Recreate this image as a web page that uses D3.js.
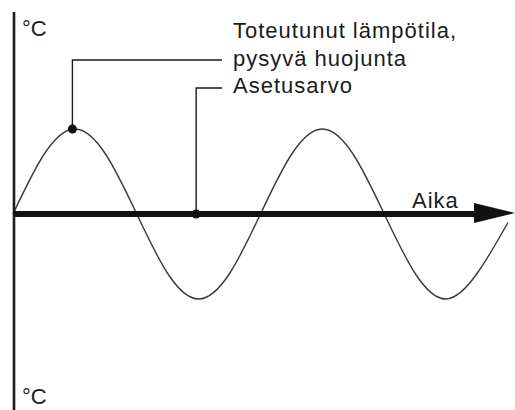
<!DOCTYPE html>
<html>
<head>
<meta charset="utf-8">
<script src="https://cdn.jsdelivr.net/npm/d3@7"></script>
<style>
  body { margin: 0; background: #fff; }
  text { font-family: "Liberation Sans", Arial, sans-serif; fill: #1b1b1b; }
</style>
</head>
<body>
<div id="chart"></div>
<script>
// time in oscillation periods, temperature relative to set point (amplitude = 1)
const time = [0, 0.125, 0.25, 0.375, 0.5, 0.625, 0.75, 0.875, 1, 1.125, 1.25, 1.375, 1.5, 1.625, 1.75, 1.875, 2]
const temp = [0, 0.7, 1, 0.7, 0, -0.7, -1, -0.7, 0, 0.7, 1, 0.7, 0, -0.7, -1, -0.7, -0.1]

// marked points: actual temperature (peak) and set point
const markTime = [0.24, 0.74]
const markTemp = [1, 0]

const labelLines = [["Toteutunut lämpötila,", "pysyvä huojunta"], ["Asetusarvo"]]
const axisTitleX = "Aika"
const axisTitleY = "°C"

const width = 515, height = 410

const svg = d3.select("#chart")
    .append("svg")
    .attr("width", width)
    .attr("height", height)

const x = d3.scaleLinear().domain([0, 2]).range([13, 508])
const y = d3.scaleLinear().domain([-1, 1]).range([299, 129])

// the curve
const line = d3.line()
    .x(d => x(d[0]))
    .y(d => y(d[1]))
    .curve(d3.curveNatural)

svg.append("path")
    .datum(d3.zip(time, temp))
    .attr("d", line)
    .attr("fill", "none")
    .attr("stroke", "#3a3a3a")
    .attr("stroke-width", 1.4)

// vertical axis
svg.append("line")
    .attr("x1", 14).attr("x2", 14)
    .attr("y1", 12).attr("y2", height)
    .attr("stroke", "#1b1b1b")
    .attr("stroke-width", 2.6)

// horizontal axis with arrow
svg.append("line")
    .attr("x1", 13).attr("x2", 478)
    .attr("y1", y(0)).attr("y2", y(0))
    .attr("stroke", "#111")
    .attr("stroke-width", 6)

svg.append("path")
    .attr("d", `M474,${y(0) - 11} L515,${y(0) - 1} L474,${y(0) + 9} Z`)
    .attr("fill", "#111")

// leader lines from marked points to labels
const elbowY = [60, 88]
const labelX = 222
svg.append("g")
    .selectAll("path")
    .data(d3.range(markTime.length))
    .join("path")
    .attr("d", i => `M${x(markTime[i])},${y(markTemp[i])} V${elbowY[i]} H${labelX}`)
    .attr("fill", "none")
    .attr("stroke", "#1b1b1b")
    .attr("stroke-width", 1.4)

svg.append("g")
    .selectAll("circle")
    .data(d3.range(markTime.length))
    .join("circle")
    .attr("cx", i => x(markTime[i]))
    .attr("cy", i => y(markTemp[i]))
    .attr("r", 4.5)
    .attr("fill", "#111")

// labels
const baselines = [38, 65.5, 93]
labelLines.flat().forEach((t, j) => {
    svg.append("text")
        .attr("x", 233)
        .attr("y", baselines[j])
        .attr("font-size", 22)
        .attr("letter-spacing", 1)
        .text(t)
})

svg.append("text")
    .attr("x", 412).attr("y", 208)
    .attr("font-size", 22)
    .attr("letter-spacing", 1)
    .text(axisTitleX)

svg.append("text")
    .attr("x", 22).attr("y", 36)
    .attr("font-size", 22)
    .text(axisTitleY)

svg.append("text")
    .attr("x", 22).attr("y", 404)
    .attr("font-size", 22)
    .text(axisTitleY)
</script>
</body>
</html>
